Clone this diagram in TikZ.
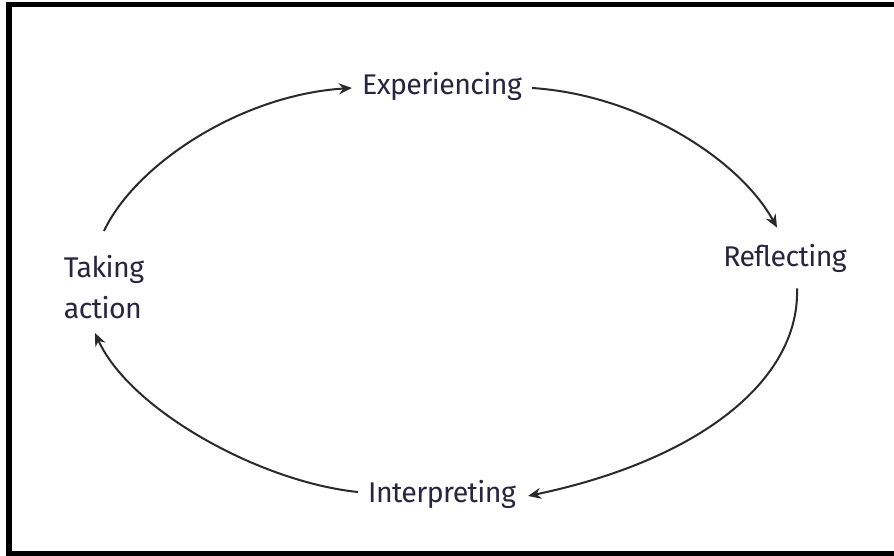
\documentclass[tikz,border=0pt]{standalone}
\usepackage{fontspec}
\setmainfont{Fira Sans}
\usetikzlibrary{arrows.meta}
\definecolor{txt}{HTML}{2A2440}
\definecolor{arr}{HTML}{2A2A2A}
\begin{document}
\begin{tikzpicture}[x=1pt,y=-1pt,
  lbl/.style={inner sep=2pt,text=txt,font=\fontsize{28.5}{41}\selectfont\addfontfeature{LetterSpace=-2}},
  cyc/.style={draw=arr,line width=2pt,-{Stealth[length=13pt,width=11pt]}}]
\useasboundingbox (0,0) rectangle (894,556);
\fill[white] (0,0) rectangle (894,556);
\fill[black] (6,2) rectangle (894,7);
\fill[black] (6,2) rectangle (12,556);
\fill[black] (6,551) rectangle (894,556);
\node[lbl] (exp) at (442,86) {Experiencing};
\node[lbl] (ref) at (785,258) {Reflecting};
\node[lbl,align=left] (ta) at (104,287) {Taking\\action};
\node[lbl] (int) at (442,494) {Interpreting};
\draw[cyc] ([shift={(0,-22)}]ta.north) .. controls (135,165) and (240,95) .. ([shift={(-8,2)}]exp.west);
\draw[cyc] ([shift={(8,2)}]exp.east) .. controls (640,95) and (740,160) .. ([shift={(-8,-14)}]ref.north);
\draw[cyc] ([shift={(12,14)}]ref.south) .. controls (800,380) and (700,460) .. ([shift={(10,2)}]int.east);
\draw[cyc] ([shift={(-8,-2)}]int.west) .. controls (260,482) and (130,410) .. ([shift={(-9,12)}]ta.south);
\end{tikzpicture}
\end{document}
